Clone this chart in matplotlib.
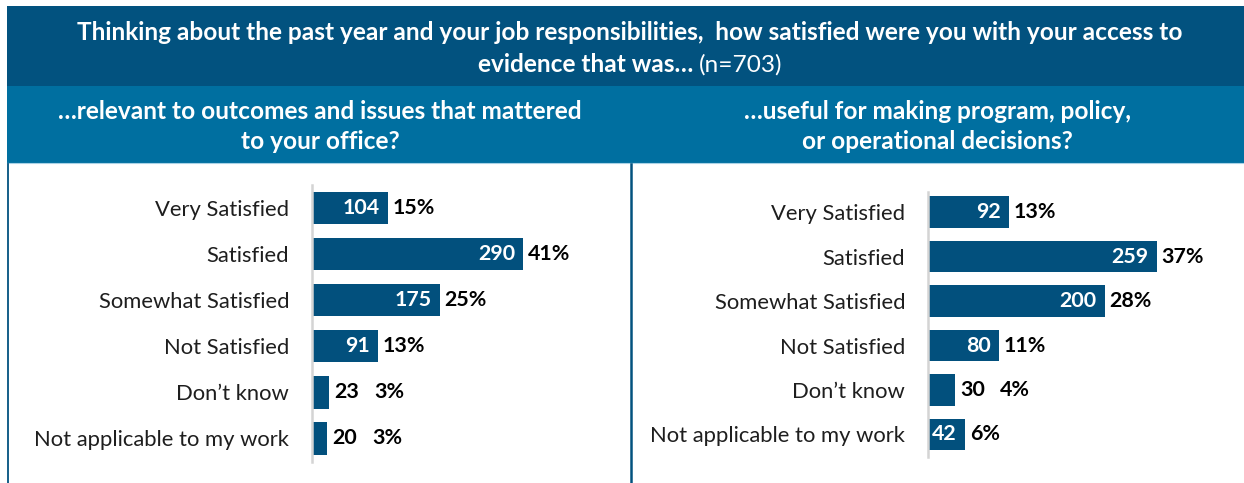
import matplotlib
matplotlib.use("Agg")
import matplotlib.pyplot as plt
from matplotlib.patches import Rectangle
from matplotlib.lines import Line2D

plt.rcParams['font.family'] = ['Lato', 'DejaVu Sans']

# ---- data -------------------------------------------------------------
categories = ["Very Satisfied", "Satisfied", "Somewhat Satisfied",
              "Not Satisfied", "Don\u2019t know", "Not applicable to my work"]
relevant_counts = [104, 290, 175, 91, 23, 20]
relevant_pcts = [15, 41, 25, 13, 3, 3]
useful_counts = [92, 259, 200, 80, 30, 42]
useful_pcts = [13, 37, 28, 11, 4, 6]

title_line1 = ("Thinking about the past year and your job responsibilities,  "
               "how satisfied were you with your access to")
title_line2_bold = "evidence that was\u2026 "
title_line2_plain = "(n=703)"
left_subtitle = "\u2026relevant to outcomes and issues that mattered\nto your office?"
right_subtitle = "\u2026useful for making program, policy,\nor operational decisions?"

# ---- styling ----------------------------------------------------------
W, H = 1244, 483
DARK = "#02527f"
MID = "#006fa0"
BAR = "#02507d"
AXIS_GREY = "#d4d4d4"
TEXT = "#1e1e1e"
HEAD_FS = 17.6
CAT_FS = 15.8
VAL_FS = 15.4
INSIDE_MIN = 35   # counts below this are written outside the bar

fig = plt.figure(figsize=(W / 100, H / 100), dpi=100)
fig.patch.set_facecolor("white")


def fx(x):
    return x / W


def fy(y):
    return 1 - y / H


def frect(x0, y0, x1, y1, color):
    fig.patches.append(Rectangle((fx(x0), fy(y1)), fx(x1) - fx(x0), fy(y0) - fy(y1),
                                 transform=fig.transFigure, facecolor=color,
                                 edgecolor="none", zorder=0))


def fline(x0, y0, x1, y1, color, lw):
    fig.lines.append(Line2D([fx(x0), fx(x1)], [fy(y0), fy(y1)],
                            transform=fig.transFigure, color=color, lw=lw, zorder=1))


# header bands
frect(7, 6, W, 86, DARK)
frect(7, 86, W, 163, MID)
fline(7, 163.5, W, 163.5, "#a9d2e6", 0.8)
# panel borders
fline(8, 164, 8, H, DARK, 1.3)
fline(631, 164, 631, H, DARK, 1.8)

# title
fig.text(fx(630), fy(32.5), title_line1, color="white", fontsize=HEAD_FS,
         fontweight="bold", ha="center", va="center")
renderer = fig.canvas.get_renderer()
tb = fig.text(0, fy(64.5), title_line2_bold, color="white", fontsize=HEAD_FS,
              fontweight="bold", ha="left", va="center")
tp = fig.text(0, fy(64.5), title_line2_plain, color="white", fontsize=HEAD_FS,
              fontweight="normal", ha="left", va="center")
wb = tb.get_window_extent(renderer).width
wp = tp.get_window_extent(renderer).width
x_start = 630 - (wb + wp) / 2
tb.set_x(fx(x_start))
tp.set_x(fx(x_start + wb))

# panel subtitles
fig.text(fx(320), fy(126.5), left_subtitle, color="white", fontsize=HEAD_FS,
         fontweight="bold", ha="center", va="center", linespacing=1.36)
fig.text(fx(937), fy(126.5), right_subtitle, color="white", fontsize=HEAD_FS,
         fontweight="bold", ha="center", va="center", linespacing=1.36)


def panel(px0, px1, py0, py1, xmax, ylim, counts, pcts):
    ax = fig.add_axes([fx(px0), fy(py1), fx(px1) - fx(px0), fy(py0) - fy(py1)])
    ax.set_facecolor("none")
    ypos = list(range(len(categories)))
    ax.barh(ypos, counts, height=0.70, color=BAR, zorder=2)
    ax.set_xlim(0, xmax)
    ax.set_ylim(*ylim)
    for s in ("top", "right", "bottom"):
        ax.spines[s].set_visible(False)
    ax.spines["left"].set_color(AXIS_GREY)
    ax.spines["left"].set_linewidth(1.8)
    ax.set_xticks([])
    ax.set_yticks(ypos)
    ax.set_yticklabels(categories, fontsize=CAT_FS, color=TEXT)
    ax.tick_params(axis="y", length=0, pad=16.5)
    for y, c, p in zip(ypos, counts, pcts):
        if c >= INSIDE_MIN:
            ax.annotate(f"{c}", (c, y), xytext=(-6.0, 0), textcoords="offset points",
                        ha="right", va="center", color="white", fontsize=VAL_FS,
                        fontweight="bold", zorder=3)
            ax.annotate(f"{p}%", (c, y), xytext=(3.4, 0), textcoords="offset points",
                        ha="left", va="center", color="black", fontsize=VAL_FS,
                        fontweight="bold", zorder=3)
        else:
            ax.annotate(f"{c}", (c, y), xytext=(4.0, 0), textcoords="offset points",
                        ha="left", va="center", color="black", fontsize=VAL_FS,
                        fontweight="bold", zorder=3)
            ax.annotate(f"{p}%", (c, y), xytext=(33, 0), textcoords="offset points",
                        ha="left", va="center", color="black", fontsize=VAL_FS,
                        fontweight="bold", zorder=3)
    return ax


# left panel: 0.729 px per respondent, right panel: 0.884 px per respondent
panel(312, 620, 185, 462, (620 - 312) / 0.729, (5.51, -0.50),
      relevant_counts, relevant_pcts)
panel(928, 1235, 192, 457, (1235 - 928) / 0.884, (5.506, -0.45),
      useful_counts, useful_pcts)

fig.savefig("out.png", dpi=100, facecolor="white")
